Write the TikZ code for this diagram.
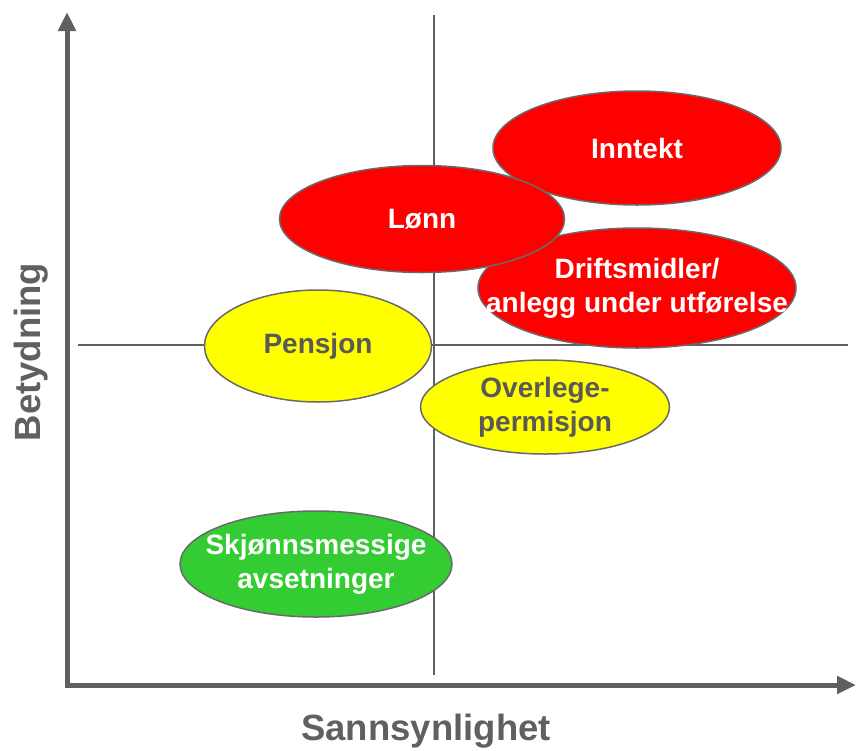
\documentclass[tikz,border=0pt]{standalone}
\usepackage{fontspec}
\setmainfont{Liberation Sans}
\usetikzlibrary{shapes}
\usetikzlibrary{arrows.meta}
\definecolor{axisgray}{HTML}{606060}
\definecolor{rimgray}{HTML}{6A6A6A}
\definecolor{textgray}{HTML}{595959}
\definecolor{riskred}{HTML}{FF0000}
\definecolor{riskyellow}{HTML}{FFFF00}
\definecolor{riskgreen}{HTML}{33CC33}
\tikzset{%
  risk/.style={draw=rimgray, line width=1.5pt, shape=ellipse, inner sep=0pt},
  high/.style={risk, fill=riskred},% red: high risk
  medium/.style={risk, fill=riskyellow},% yellow: medium risk
  low/.style={risk, fill=riskgreen},% green: low risk
  inside/.style={font=\fontsize{28}{34}\selectfont\bfseries, align=center, text=white},
  insidedark/.style={inside, text=textgray},
  axis/.style={draw=axisgray, line width=5pt, {Triangle[length=19pt, width=17pt]}-{Triangle[length=19pt, width=17pt]}},
  divider/.style={draw=axisgray, line width=2pt},
  axislabel/.style={font=\fontsize{36.5}{40}\selectfont\bfseries, text=axisgray}
}
\begin{document}
\begin{tikzpicture}[x=1pt, y=-1pt]
  \useasboundingbox (0,0) rectangle (856,750);
  % Axes and the two dividers of the matrix:
  \coordinate (O) at (67,685);
  \coordinate (ytip) at (67,12);
  \coordinate (xtip) at (856,685);
  \coordinate (vtop) at (434,15);
  \coordinate (vbot) at (434,675);
  \coordinate (hleft) at (78,345);
  \coordinate (hright) at (848,345);
  \draw[divider] (vtop) -- (vbot);
  \draw[divider] (hleft) -- (hright);
  \draw[axis] (ytip) -- (O) -- (xtip);
  \node[axislabel] (xlabel) at (426,731) {Sannsynlighet};
  \node[axislabel, rotate=90] (ylabel) at (31,352) {Betydning};
  % The risk areas, placed as ellipses:
  \node[high, minimum width=288, minimum height=114,
    label={[inside]center:Inntekt}] (inntekt) at (637,148) {};
  \node[high, minimum width=318, minimum height=120,
    label={[inside]center:{Driftsmidler/\\anlegg under utførelse}}] (drift) at (637,288) {};
  \node[high, minimum width=285, minimum height=107,
    label={[inside]center:Lønn}] (lonn) at (422,219) {};
  \node[medium, minimum width=227, minimum height=112,
    label={[insidedark]center:Pensjon}] (pensjon) at (318,346) {};
  \node[medium, minimum width=249, minimum height=94,
    label={[insidedark]center:{Overlege-\\permisjon}}] (overlege) at (545,407) {};
  \node[low, minimum width=272, minimum height=106,
    label={[inside]center:{Skjønnsmessige\\avsetninger}}] (skjonn) at (316,564) {};
\end{tikzpicture}
\end{document}
